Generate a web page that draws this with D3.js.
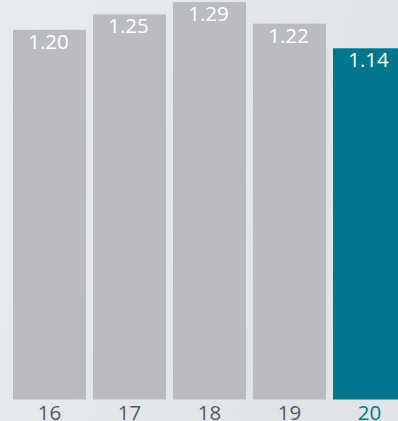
<!DOCTYPE html>
<html>
<head>
<meta charset="utf-8">
<script src="https://cdn.jsdelivr.net/npm/d3@7"></script>
<style>
  body { margin: 0; overflow: hidden; }
  svg { display: block; }
</style>
</head>
<body>
<svg width="398" height="421"></svg>
<script>
// chart data
var years = ["16", "17", "18", "19", "20"];
var values = [1.20, 1.25, 1.29, 1.22, 1.14];
var valueLabels = ["1.20", "1.25", "1.29", "1.22", "1.14"];
var highlightYear = "20";

var svg = d3.select("svg"),
    width = +svg.attr("width"),
    height = +svg.attr("height");

// soft grey-blue background
var defs = svg.append("defs");
var grad = defs.append("linearGradient")
    .attr("id", "bg")
    .attr("x1", "0%").attr("y1", "0%")
    .attr("x2", "100%").attr("y2", "30%");
grad.append("stop").attr("offset", "0%").attr("stop-color", "#e7ebed");
grad.append("stop").attr("offset", "100%").attr("stop-color", "#dfe4e7");

svg.append("rect")
    .attr("width", width)
    .attr("height", height)
    .attr("fill", "url(#bg)");

// x: bars 73px wide on an 80px step, last one runs off the edge
var x = d3.scaleBand()
    .domain(years)
    .range([13, 406])
    .paddingInner(7 / 80)
    .paddingOuter(0);

var y = d3.scaleLinear()
    .domain([0, 1.3])
    .range([399.5, -1]);

var data = years.map(function(d, i) {
    return { year: d, value: values[i], label: valueLabels[i] };
});

var bar = svg.selectAll(".bar")
    .data(data)
    .enter().append("g")
    .attr("class", "bar");

bar.append("rect")
    .attr("x", function(d) { return x(d.year); })
    .attr("y", function(d) { return y(d.value); })
    .attr("width", x.bandwidth())
    .attr("height", function(d) { return y(0) - y(d.value); })
    .attr("fill", function(d) { return d.year == highlightYear ? "#00778d" : "#bbbcc0"; });

// value labels inside the top of each bar
bar.append("text")
    .attr("x", function(d) { return x(d.year) + x.bandwidth() / 2 - 1; })
    .attr("y", function(d) { return y(d.value) + 19; })
    .attr("text-anchor", "middle")
    .style("font-family", "'Open Sans', sans-serif")
    .style("font-size", "20.5px")
    .attr("fill", "#ffffff")
    .text(function(d) { return d.label; });

// year labels along the bottom
var xAxis = svg.append("g")
    .attr("transform", "translate(0,400)")
    .call(d3.axisBottom(x).tickSize(0).tickPadding(0));

xAxis.select(".domain").remove();
xAxis.selectAll("text")
    .attr("dy", null)
    .attr("y", 19.5)
    .style("font-family", "'Open Sans', sans-serif")
    .style("font-size", "20.5px")
    .attr("fill", function(d) { return d == highlightYear ? "#00778d" : "#58595b"; });
</script>
</body>
</html>
